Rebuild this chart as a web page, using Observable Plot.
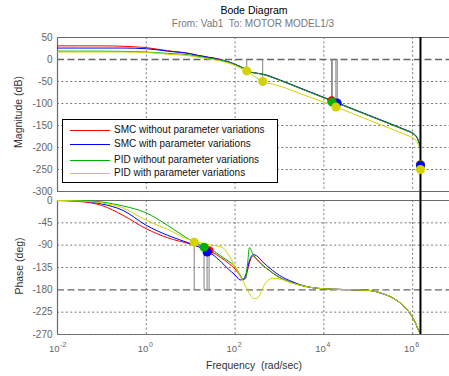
<!DOCTYPE html>
<html><head><meta charset="utf-8">
<script src="https://cdn.jsdelivr.net/npm/d3@7"></script>
<script src="https://cdn.jsdelivr.net/npm/@observablehq/plot@0.6"></script>
<style>
html,body{margin:0;padding:0;background:#fff;}
body{width:449px;height:376px;position:relative;overflow:hidden;font-family:"Liberation Sans",Arial,sans-serif;}
.abs{position:absolute;white-space:nowrap;}
#title{left:0;width:508px;top:4px;text-align:center;font-size:10.5px;color:#000;}
#subtitle{left:0;width:506px;top:18px;text-align:center;font-size:10px;color:#777;}
#ylab1{left:18px;top:112px;font-size:10.5px;color:#333;transform:translate(-50%,-50%) rotate(-90deg);}
#ylab2{left:19px;top:266px;font-size:10.5px;color:#333;transform:translate(-50%,-50%) rotate(-90deg);}
#xlab{left:0;width:508px;top:360px;text-align:center;font-size:10.4px;color:#333;}
#plot1{position:absolute;left:0;top:0;}
#plot2{position:absolute;left:0;top:195px;}
#legend{position:absolute;left:62px;top:119px;width:214px;height:62px;border:1px solid #000;background:#fff;font-size:10px;color:#111;}
#legend .row{position:absolute;left:0;width:214px;height:12px;}
#legend .sw{position:absolute;left:7px;top:6px;width:40px;height:1px;}
#legend .tx{position:absolute;left:51px;top:0px;white-space:nowrap;line-height:12px;}
</style>
</head><body>
<div id="plot1"></div>
<div id="plot2"></div>
<div id="title" class="abs">Bode Diagram</div>
<div id="subtitle" class="abs">From: Vab1&nbsp; To: MOTOR MODEL1/3</div>
<div id="ylab1" class="abs">Magnitude (dB)</div>
<div id="ylab2" class="abs">Phase (deg)</div>
<div id="xlab" class="abs">Frequency&nbsp; (rad/sec)</div>
<div id="legend"></div>
<script>
// ---------- data ----------
const freq = [0.01, 0.03, 0.1, 0.3, 1, 3, 10, 15, 20, 25, 30, 50, 70, 100, 130, 150, 170, 190, 210, 230, 260, 300, 350, 400, 500, 700, 1000, 2000, 3000, 5000, 1e4, 2e4, 5e4, 1e5, 2e5, 3e5, 5e5, 7e5, 1e6, 1.2e6, 1.3e6, 1.5e6];

const magSMC   = [31, 31, 31, 30, 27, 20, 13, 9, 7, 5, 4, -1, -5, -11, -16, -19, -22, -25, -27, -29, -30, -31, -32, -33, -36, -41, -47, -59, -66, -75, -87, -99, -115, -127, -139, -146, -155, -161, -168, -175, -181, -200];
const magSMCpv = [26, 26, 26, 26, 24.5, 19, 13, 9, 7, 5, 4, -1, -5, -11, -16, -19, -22, -25, -27, -29, -30, -31, -32, -33, -35, -40, -46, -58, -65, -74, -86, -98, -114, -126, -138, -145, -154, -160, -167, -174, -180, -199];
const magPID   = [19, 19, 19, 18.5, 17, 14, 10, 7, 5, 3, 2, -2, -6, -11, -16, -19, -22, -25, -27, -29, -30, -31, -32, -33, -36, -41, -47, -59, -66, -75, -87, -99, -115, -127, -139, -146, -155, -161, -168, -175, -181, -200];
const magPIDpv = [17, 17, 17, 17, 16, 12, 8, 5, 3, 1, 0, -4, -8, -14, -19, -22, -24, -27, -30, -33, -37, -41, -46, -50, -53, -56, -60, -71, -78, -86, -97, -109, -125, -137, -149, -156, -165, -171, -178, -184, -190, -205];

const phSMC   = [0, -2, -10, -30, -57, -75, -88, -93, -97, -101, -104, -116, -126, -138, -152, -160, -157, -142, -126, -116, -112, -117, -123, -129, -136, -146, -155, -166, -171, -175, -178, -179, -180, -181, -187, -193, -205, -217, -236, -250, -258, -268];
const phSMCpv = [0, -1, -7, -20, -50, -70, -87, -93, -99, -104, -108, -125, -138, -150, -160, -159, -152, -137, -122, -113, -109, -111, -116, -122, -130, -141, -151, -164, -170, -175, -178, -179, -180, -181, -187, -193, -205, -217, -236, -250, -258, -268];
const phPID   = [0, 0, -3, -11, -25, -50, -80, -88, -94, -97, -100, -113, -122, -133, -150, -158, -158, -130, -95, -100, -110, -118, -124, -129, -136, -146, -155, -166, -171, -175, -178, -179, -180, -181, -187, -193, -205, -217, -236, -250, -258, -268];
const phPIDpv = [0, -1, -5, -15, -40, -58, -80, -84, -87, -89, -90, -94, -108, -133, -152, -162, -172, -180, -188, -193, -197, -198, -192, -180, -165, -157, -158, -167, -171, -175, -178, -179, -180, -181, -187, -193, -205, -217, -236, -250, -258, -268];

const seriesNames  = ["SMC without parameter variations", "SMC with parameter variations", "PID without parameter variations", "PID with parameter variations"];
const seriesColors = ["#ff0000", "#0000ff", "#00b000", "#d2d200"];

const magTicks   = [50, 0, -50, -100, -150, -200, -250, -300];
const phaseTicks = [0, -45, -90, -135, -180, -225, -270];
const xTicks     = [1e-2, 1e0, 1e2, 1e4, 1e6];
const xTickExp   = ["-2", "0", "2", "4", "6"];
const xGrid      = [1e0, 1e2, 1e4, 1e6];
const nyquist    = 1.5e6;
const xDomain    = [1e-2, Math.pow(10, 6.83)];

// stability-margin markers
const gmFreq   = [183, 419, 1.50e4, 2.0e4, 1.54e4, 1.87e4, 1.5e6, 1.5e6, 1.5e6, 1.5e6];
const gmVal    = [-26, -50, -94, -99, -97, -108, -239, -240, -241, -250];
const gmSeries = [3, 3, 0, 1, 2, 3, 0, 2, 1, 3];
const gmStem   = [true, true, true, true, true, true, false, false, false, false];

const pmFreq   = [26, 23.4, 20, 12];
const pmVal    = [-101, -104, -94, -84];
const pmSeries = [0, 1, 2, 3];

// ---------- tidy tables ----------
const mags = [magSMC, magSMCpv, magPID, magPIDpv];
const phs  = [phSMC, phSMCpv, phPID, phPIDpv];
const magData = mags.flatMap((arr, k) => freq.map((f, i) => ({f, v: arr[i], s: seriesNames[k]})));
const phData  = phs.flatMap((arr, k) => freq.map((f, i) => ({f, v: arr[i], s: seriesNames[k]})));
const gmData = gmFreq.map((f, i) => ({f, v: gmVal[i], s: seriesNames[gmSeries[i]], stem: gmStem[i]}));
const pmData = pmFreq.map((f, i) => ({f, v: pmVal[i], s: seriesNames[pmSeries[i]]}));

const color = {domain: seriesNames, range: seriesColors};
const GRID = {stroke: "#7a7a7a", strokeWidth: 1, strokeDasharray: "2,2.4"};
const FRAME = {stroke: "#6a6a6a", strokeWidth: 1.2};
const font = "Liberation Sans, Arial, sans-serif";

const p1 = Plot.plot({
  width: 449, height: 195,
  marginTop: 37, marginBottom: 4, marginLeft: 57, marginRight: 0,
  style: {background: "transparent", overflow: "visible", fontFamily: font},
  x: {type: "log", domain: xDomain, axis: null},
  y: {domain: [-300, 50], axis: null},
  color,
  marks: [
    Plot.ruleY(magTicks.filter(d => d !== 0 && d !== 50 && d !== -300), GRID),
    Plot.ruleX(xGrid, GRID),
    Plot.ruleY([0], {stroke: "#666", strokeWidth: 1.3, strokeDasharray: "7,3.5"}),
    Plot.ruleY([50], FRAME),
    Plot.ruleY([-300], FRAME),
    Plot.ruleX([xDomain[0]], FRAME),
    Plot.text(magTicks, {x: xDomain[0], y: d => d, text: d => String(d), textAnchor: "end", dx: -5, fill: "#666", fontSize: 10}),
    Plot.ruleX(gmData.filter(d => d.stem), {x: "f", y1: 0, y2: "v", stroke: "#808080", strokeWidth: 1}),
    Plot.line(magData, {x: "f", y: "v", stroke: "s", z: "s", strokeWidth: 1, curve: "monotone-x"}),
    Plot.ruleX([nyquist], {y1: 50, y2: -310, stroke: "#000", strokeWidth: 2}),
    Plot.dot(gmData, {x: "f", y: "v", fill: "s", r: 4.5, stroke: "none"})
  ]
});
document.getElementById("plot1").append(p1);

const p2 = Plot.plot({
  width: 449, height: 181,
  marginTop: 5, marginBottom: 42, marginLeft: 57, marginRight: 0,
  style: {background: "transparent", overflow: "visible", fontFamily: font},
  x: {type: "log", domain: xDomain, axis: null},
  y: {domain: [-270, 0], axis: null},
  color,
  marks: [
    Plot.ruleY(phaseTicks.filter(d => d !== 0 && d !== -180), GRID),
    Plot.ruleX(xGrid, GRID),
    Plot.ruleY([-180], {stroke: "#666", strokeWidth: 1.3, strokeDasharray: "7,3.5"}),
    Plot.ruleY([0], FRAME),
    Plot.ruleY([-270], FRAME),
    Plot.ruleY([-270], GRID),
    Plot.ruleX([xDomain[0]], FRAME),
    Plot.text(phaseTicks, {x: xDomain[0], y: d => d, text: d => String(d), textAnchor: "end", dx: -5, fill: "#666", fontSize: 10}),
    Plot.text(xTicks, {x: d => d, y: -270, text: () => "10", textAnchor: "end", dx: 2, dy: 14, fill: "#666", fontSize: 9.5}),
    Plot.text(xTicks, {x: d => d, y: -270, text: (d, i) => xTickExp[i], textAnchor: "start", dx: 2.6, dy: 10, fill: "#666", fontSize: 7}),
    Plot.ruleX(pmData, {x: "f", y1: -180, y2: "v", stroke: "#808080", strokeWidth: 1}),
    Plot.line(phData, {x: "f", y: "v", stroke: "s", z: "s", strokeWidth: 1, curve: "monotone-x"}),
    Plot.ruleX([nyquist], {y1: 10, y2: -270, stroke: "#000", strokeWidth: 2}),
    Plot.dot(pmData, {x: "f", y: "v", fill: "s", r: 4.5, stroke: "none"})
  ]
});
document.getElementById("plot2").append(p2);

// legend
const lg = document.getElementById("legend");
const rowTops = [4, 18, 34, 47];
seriesNames.forEach((name, i) => {
  const row = document.createElement("div");
  row.className = "row";
  row.style.top = rowTops[i] + "px";
  row.innerHTML = `<div class="sw" style="background:${seriesColors[i]}"></div><div class="tx">${name}</div>`;
  lg.append(row);
});
</script>
</body></html>
